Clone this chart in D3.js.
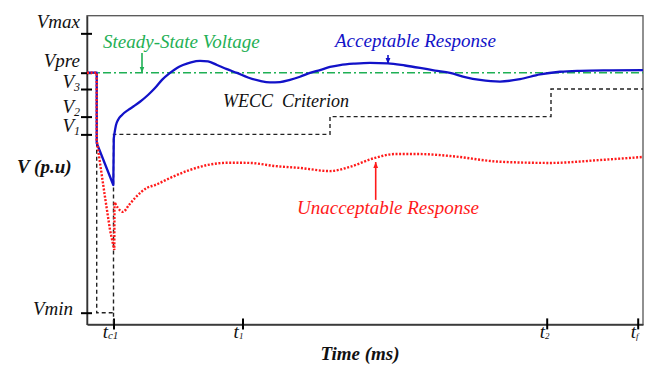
<!DOCTYPE html>
<html>
<head>
<meta charset="utf-8">
<script src="https://cdn.jsdelivr.net/npm/d3@7"></script>
</head>
<body style="margin:0">
<svg id="chart" width="656" height="367"></svg>
<script>
// ---------- data ----------
// time axis (ms, arbitrary units) and voltage axis (p.u., Vmin = 0, Vpre = 1)
const xTickVals   = [26.5, 155.5, 459.7, 550.7];
const xTickMain   = ["t", "t", "t", "t"];
const xTickSub    = ["c1", "1", "2", "f"];

const yTickVals   = [1.164, 1.0, 0.932, 0.817, 0.743, 0.0];
const yTickMain   = ["Vmax", "Vpre", "V", "V", "V", "Vmin"];
const yTickSub    = ["", "", "3", "2", "1", ""];

const vPre = 1.0;

// WECC criterion envelope
const weccT = [9.7, 9.7, 26.5, 26.5, 243, 243, 464, 464, 556];
const weccV = [1.0, 0.0, 0.0, 0.743, 0.743, 0.817, 0.817, 0.932, 0.932];

// acceptable response (fault part + recovery part)
const accFaultT = [0, 9.7, 9.7, 26.3, 26.8];
const accFaultV = [1.0, 1.0, 0.707, 0.532, 0.728];
const accRecT = [26.8, 29, 31, 35, 41.3, 47, 53, 61, 68, 75, 83, 90, 96, 104, 113, 121, 130, 140, 150, 161, 173, 183, 193, 203, 213, 223, 233, 243, 253, 268, 283, 301, 318, 333, 348, 363, 378, 393, 413, 433, 453, 473, 493, 523, 556];
const accRecV = [0.728, 0.782, 0.803, 0.824, 0.845, 0.861, 0.879, 0.907, 0.936, 0.970, 0.999, 1.020, 1.032, 1.043, 1.049, 1.047, 1.032, 1.015, 0.999, 0.980, 0.966, 0.960, 0.961, 0.970, 0.983, 0.999, 1.011, 1.024, 1.032, 1.038, 1.041, 1.039, 1.030, 1.020, 1.009, 0.999, 0.982, 0.970, 0.963, 0.973, 0.993, 1.004, 1.008, 1.010, 1.011];

// unacceptable response
const unFaultT = [0, 9.7, 9.7, 13, 18, 23, 27.3, 27.5];
const unFaultV = [1.0, 1.0, 0.720, 0.624, 0.482, 0.345, 0.261, 0.461];
const unRecT = [27.5, 31, 36, 42, 48, 60, 68, 86, 103, 120, 143, 163, 188, 213, 243, 263, 288, 308, 333, 363, 413, 463, 513, 556];
const unRecV = [0.461, 0.436, 0.420, 0.449, 0.478, 0.520, 0.532, 0.567, 0.595, 0.615, 0.625, 0.624, 0.611, 0.603, 0.590, 0.608, 0.645, 0.661, 0.661, 0.653, 0.629, 0.624, 0.636, 0.649];

const fonts = ["Liberation Serif"];

// ---------- layout ----------
const svg = d3.select("#chart");
const L = 87, R = 643, T = 15.7, B = 324.4;
const x = d3.scaleLinear().domain([0, 556]).range([L, R]);
const y = d3.scaleLinear().domain([-0.0488, 1.2375]).range([B, T]);

const cGreen = "#1fb055", cBlue = "#1212c8", cRed = "#ff1a1a", cBlack = "#222";

// marker defs
const defs = svg.append("defs");
function marker(id, color) {
  defs.append("marker").attr("id", id).attr("viewBox", "0 0 10 10")
    .attr("refX", 10).attr("refY", 5).attr("markerWidth", 6).attr("markerHeight", 6)
    .attr("markerUnits", "userSpaceOnUse").attr("orient", "auto")
    .append("path").attr("d", "M0,1 L10,5 L0,9 Z").attr("fill", color);
}
marker("mG", cGreen); marker("mB", cBlue); marker("mR", cRed);

// frame
svg.append("rect").attr("x", L).attr("y", T).attr("width", R - L).attr("height", B - T)
  .attr("fill", "none").attr("stroke", "#555").attr("stroke-width", 1.3);

// axes
const yAxis = d3.axisLeft(y).tickValues(yTickVals).tickFormat("").tickSizeOuter(0);
const gy = svg.append("g").attr("transform", `translate(${L},0)`).call(yAxis);
gy.select(".domain").attr("stroke", "#333").attr("stroke-width", 1.5);
gy.selectAll(".tick line").attr("x1", -6).attr("x2", 5).attr("stroke", "#000").attr("stroke-width", 2);

const xAxis = d3.axisBottom(x).tickValues(xTickVals).tickFormat("").tickSizeOuter(0);
const gx = svg.append("g").attr("transform", `translate(0,${B})`).call(xAxis);
gx.select(".domain").attr("stroke", "#333").attr("stroke-width", 1.5);
gx.selectAll(".tick line").attr("y1", -6).attr("y2", 5).attr("stroke", "#000").attr("stroke-width", 2);

// steady-state line
svg.append("line").attr("x1", x(0)).attr("x2", x(556)).attr("y1", y(vPre)).attr("y2", y(vPre))
  .attr("stroke", cGreen).attr("stroke-width", 1.4).attr("stroke-dasharray", "8 3 2 3");

// WECC criterion
const lineLin = d3.line().x(d => x(d[0])).y(d => y(d[1])).curve(d3.curveLinear);
const lineSm = d3.line().x(d => x(d[0])).y(d => y(d[1])).curve(d3.curveMonotoneX);
svg.append("path").attr("d", lineLin(d3.zip(weccT, weccV))).attr("fill", "none")
  .attr("stroke", cBlack).attr("stroke-width", 1.4).attr("stroke-dasharray", "4 3");
svg.append("path").attr("d", lineLin([[weccT[2], weccV[2]], [weccT[2], y.domain()[0]]])).attr("fill", "none")
  .attr("stroke", cBlack).attr("stroke-width", 1.4).attr("stroke-dasharray", "4 3");

// acceptable response
const accPath = lineLin(d3.zip(accFaultT, accFaultV)) + lineSm(d3.zip(accRecT, accRecV)).replace(/^M/, "L");
svg.append("path").attr("d", accPath).attr("fill", "none").attr("stroke", cBlue).attr("stroke-width", 2.3)
  .attr("stroke-linejoin", "round");

// unacceptable response
const unPath = lineLin(d3.zip(unFaultT, unFaultV)) + lineSm(d3.zip(unRecT, unRecV)).replace(/^M/, "L");
svg.append("path").attr("d", unPath).attr("fill", "none").attr("stroke", cRed).attr("stroke-width", 2.4)
  .attr("stroke-dasharray", "2 1.6");

// annotations
const annT = [55, 301, 288.7];
const annFrom = [1.082, 1.074, 0.47];
const annTo = [1.0, 1.036, 0.628];
const annColor = [cGreen, cBlue, cRed];
const annMarker = ["mG", "mB", "mR"];
annT.forEach((t, i) => {
  svg.append("line").attr("x1", x(t)).attr("x2", x(t)).attr("y1", y(annFrom[i])).attr("y2", y(annTo[i]))
    .attr("stroke", annColor[i]).attr("stroke-width", 1.6).attr("marker-end", `url(#${annMarker[i]})`);
});

// ---------- texts ----------
const f = fonts[0];
function txt(px, py, size) {
  return svg.append("text").attr("x", px).attr("y", py).attr("font-size", size)
    .attr("font-style", "italic").style("font-family", f);
}

// y tick labels
const yLabelDy = [-5, -6, -1, -4, -2, 2];
yTickVals.forEach((v, i) => {
  const t = txt(i === 5 ? 73 : 80, y(v) + yLabelDy[i], 19).attr("text-anchor", "end").attr("fill", "#111");
  t.append("tspan").text(yTickMain[i]);
  if (yTickSub[i]) t.append("tspan").attr("font-size", 12).attr("dy", 3).text(yTickSub[i]);
});

// x tick labels
const xLabelDx = [-3, -4, -2, -3];
xTickVals.forEach((v, i) => {
  const t = txt(x(v) + xLabelDx[i], 338, 19).attr("text-anchor", "middle").attr("fill", "#111");
  t.append("tspan").text(xTickMain[i]);
  t.append("tspan").attr("font-size", i === 0 ? 11 : 9).attr("dy", 1).text(xTickSub[i]);
});

// axis titles
txt(17, 173, 19).attr("font-weight", "bold").attr("fill", "#111").text("V (p.u)");
txt(360, 360, 19).attr("text-anchor", "middle").attr("font-weight", "bold").attr("fill", "#111").text("Time (ms)");

txt(103, 48, 19).attr("fill", cGreen).text("Steady-State Voltage");
txt(335, 47, 19).attr("fill", cBlue).text("Acceptable Response");
txt(223, 107, 18).attr("fill", "#111").attr("xml:space", "preserve").text("WECC  Criterion");
txt(297, 214, 19).attr("fill", cRed).text("Unacceptable Response");
</script>
</body>
</html>
